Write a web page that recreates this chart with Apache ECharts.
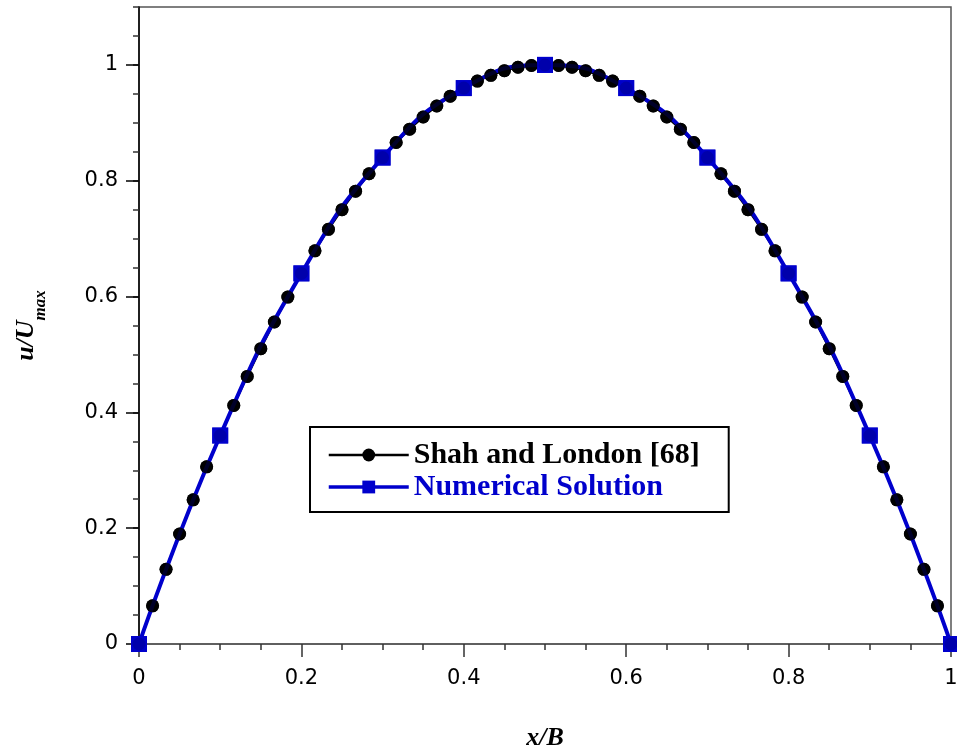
<!DOCTYPE html>
<html>
<head>
<meta charset="utf-8">
<script src="https://cdn.jsdelivr.net/npm/echarts@6/dist/echarts.min.js"></script>
<style>
html,body{margin:0;padding:0;background:#fff;}
#chart{width:957px;height:753px;}
</style>
</head>
<body>
<div id="chart"></div>
<script>
// Shah and London [68] (black circles)
var shahX = [0, 0.0167, 0.0333, 0.05, 0.0667, 0.0833, 0.1, 0.1167, 0.1333, 0.15, 0.1667, 0.1833, 0.2, 0.2167, 0.2333, 0.25, 0.2667, 0.2833, 0.3, 0.3167, 0.3333, 0.35, 0.3667, 0.3833, 0.4, 0.4167, 0.4333, 0.45, 0.4667, 0.4833, 0.5,
  0.5167, 0.5333, 0.55, 0.5667, 0.5833, 0.6, 0.6167, 0.6333, 0.65, 0.6667, 0.6833, 0.7, 0.7167, 0.7333, 0.75, 0.7667, 0.7833, 0.8, 0.8167, 0.8333, 0.85, 0.8667, 0.8833, 0.9, 0.9167, 0.9333, 0.95, 0.9667, 0.9833, 1];
var shahY = [0, 0.066, 0.129, 0.190, 0.249, 0.306, 0.360, 0.412, 0.462, 0.510, 0.556, 0.599, 0.640, 0.679, 0.716, 0.750, 0.782, 0.812, 0.840, 0.866, 0.889, 0.910, 0.929, 0.946, 0.960, 0.972, 0.982, 0.990, 0.996, 0.999, 1.000,
  0.999, 0.996, 0.990, 0.982, 0.972, 0.960, 0.946, 0.929, 0.910, 0.889, 0.866, 0.840, 0.812, 0.782, 0.750, 0.716, 0.679, 0.640, 0.599, 0.556, 0.510, 0.462, 0.412, 0.360, 0.306, 0.249, 0.190, 0.129, 0.066, 0];
// Numerical Solution (blue squares)
var numX = [0, 0.1, 0.2, 0.3, 0.4, 0.5, 0.6, 0.7, 0.8, 0.9, 1];
var numY = [0, 0.36, 0.64, 0.84, 0.96, 1.0, 0.96, 0.84, 0.64, 0.36, 0];
// tick labels
var xTicks = [0, 0.2, 0.4, 0.6, 0.8, 1];
var yTicks = [0, 0.2, 0.4, 0.6, 0.8, 1];
var seriesNames = ['Shah and London [68]', 'Numerical Solution'];

function pairs(xs, ys) { return xs.map(function (x, i) { return [x, ys[i]]; }); }
var shahData = pairs(shahX, shahY);
var numData = pairs(numX, numY);

var chart = echarts.init(document.getElementById('chart'), null, {renderer: 'canvas'});
var tickFont = {fontFamily: 'DejaVu Sans', fontSize: 21, color: '#000'};
var option = {
  animation: false,
  backgroundColor: '#fff',
  grid: {left: 139, right: 6, top: 7, bottom: 109, containLabel: false, outerBoundsMode: 'none',
    show: true, borderColor: '#555', borderWidth: 1.5, backgroundColor: 'transparent'},
  legend: {
    orient: 'vertical', left: 310, top: 427,
    padding: [12, 29, 9, 17],
    borderColor: '#000', borderWidth: 2, backgroundColor: '#fff',
    itemWidth: 80, itemHeight: 16, itemGap: 0,
    textStyle: {fontFamily: 'Liberation Serif', fontWeight: 'bold', fontSize: 30, lineHeight: 32},
    data: [
      {name: seriesNames[0], textStyle: {color: '#000'}, lineStyle: {width: 2.5, color: '#000'}},
      {name: seriesNames[1], textStyle: {color: '#0000cc'}, lineStyle: {width: 3.5, color: '#0000cc'}}
    ]
  },
  xAxis: {
    type: 'value', min: 0, max: 1, interval: 0.2,
    name: 'x/B', nameLocation: 'middle', nameGap: 81,
    nameTextStyle: {fontFamily: 'Liberation Serif', fontWeight: 'bold', fontStyle: 'italic', fontSize: 26, color: '#000'},
    axisLine: {show: true, lineStyle: {color: '#555', width: 1.5}},
    axisTick: {show: true, length: 13, inside: false, lineStyle: {color: '#333', width: 1.5}, customValues: xTicks},
    minorTick: {show: true, splitNumber: 4, length: 6, lineStyle: {color: '#333', width: 1.5}},
    axisLabel: Object.assign({margin: 24, customValues: xTicks}, tickFont),
    splitLine: {show: false}
  },
  yAxis: [{
    type: 'value', min: 0, max: 1.1, interval: 0.05,
    name: '{a|u/U}{b|max}', nameLocation: 'middle', nameGap: 90, nameRotate: 90,
    nameTextStyle: {
      color: '#000',
      rich: {
        a: {fontFamily: 'Liberation Serif', fontWeight: 'bold', fontStyle: 'italic', fontSize: 26, color: '#000'},
        b: {fontFamily: 'Liberation Serif', fontWeight: 'bold', fontStyle: 'italic', fontSize: 17, color: '#000', padding: [28, 0, 0, 0]}
      }
    },
    axisLine: {show: true, lineStyle: {color: '#000', width: 1.5}},
    axisTick: {show: true, length: 6, lineStyle: {color: '#333', width: 1.5}},
    axisLabel: Object.assign({margin: 21, customValues: yTicks}, tickFont),
    splitLine: {show: false}
  }, {
    type: 'value', min: 0, max: 1.1, interval: 0.2, position: 'left',
    axisLine: {show: false},
    axisTick: {show: true, length: 13, lineStyle: {color: '#000', width: 1.5}, customValues: yTicks},
    axisLabel: {show: false},
    splitLine: {show: false}
  }],
  series: [
    {name: seriesNames[0], type: 'line', data: shahData, z: 2,
      symbol: 'circle', symbolSize: 13, showSymbol: true,
      lineStyle: {color: '#000', width: 2}, itemStyle: {color: '#000'}},
    {name: seriesNames[1], type: 'line', data: numData, z: 3, smooth: true,
      symbol: 'rect', symbolSize: 16, showSymbol: true,
      lineStyle: {color: '#0000cc', width: 4}, itemStyle: {color: '#0000cc'}},
    {name: 'shahPts', type: 'scatter', data: shahData, z: 4,
      symbol: 'circle', symbolSize: 13, itemStyle: {color: '#000'}},
    {name: 'numPts', type: 'scatter', data: numData, z: 5,
      symbol: 'rect', symbolSize: 16, itemStyle: {color: '#0000cc'}}
  ]
};
chart.setOption(option);
</script>
</body>
</html>
